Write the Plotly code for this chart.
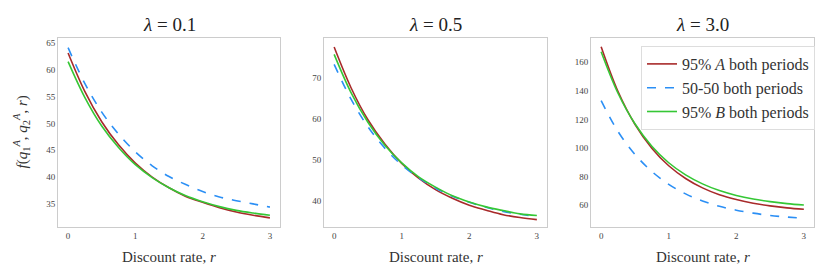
import plotly.graph_objects as go

r = [0, 0.25, 0.5, 0.75, 1.0, 1.25, 1.5, 1.75, 2.0, 2.25, 2.5, 2.75, 3.0]

# lambda = 0.1
p1_a = [63.1, 55.9, 50.3, 46.0, 42.6, 40.0, 38.0, 36.4, 35.3, 34.3, 33.5, 32.9, 32.4]
p1_ab = [64.1, 57.4, 52.1, 48.0, 44.7, 42.1, 40.1, 38.6, 37.3, 36.3, 35.6, 35.0, 34.4]
p1_b = [61.5, 54.8, 49.5, 45.5, 42.3, 39.9, 38.0, 36.5, 35.4, 34.5, 33.8, 33.3, 32.9]

# lambda = 0.5
p2_a = [77.5, 67.6, 59.8, 53.9, 49.2, 45.6, 42.8, 40.7, 39.0, 37.8, 36.7, 36.0, 35.5]
p2_ab = [73.3, 64.8, 58.1, 52.9, 48.8, 45.7, 43.2, 41.2, 39.7, 38.5, 37.5, 36.8, 36.2]
p2_b = [75.7, 66.4, 59.2, 53.6, 49.3, 45.9, 43.4, 41.3, 39.8, 38.6, 37.7, 36.9, 36.5]

# lambda = 3.0
p3_a = [170.9, 139.5, 116.6, 99.8, 87.5, 78.6, 72.0, 67.2, 63.8, 61.2, 59.4, 58.0, 57.0]
p3_ab = [133.1, 111.5, 95.5, 83.5, 74.5, 67.8, 62.9, 59.1, 56.4, 54.3, 52.7, 51.6, 50.7]
p3_b = [167.4, 138.3, 116.9, 101.2, 89.6, 81.1, 74.8, 70.1, 66.7, 64.2, 62.4, 61.0, 60.0]

titles = ["<i>λ</i> = 0.1", "<i>λ</i> = 0.5", "<i>λ</i> = 3.0"]
series_names = ["95% <i>A</i> both periods", "50-50 both periods", "95% <i>B</i> both periods"]
colors = ["#a82a2a", "#2b8ff5", "#35c735"]
dashes = ["solid", "dash", "solid"]

y_ranges = [[30.7, 65.9], [33.7, 79.7], [44.6, 177.0]]
y_ticks = [[35, 40, 45, 50, 55, 60, 65], [40, 50, 60, 70], [60, 80, 100, 120, 140, 160]]
x_ticks = [0, 1, 2, 3]

panels = [[p1_a, p1_ab, p1_b], [p2_a, p2_ab, p2_b], [p3_a, p3_ab, p3_b]]

W, H = 830, 277
x_doms = [[58 / W, 280 / W], [324 / W, 547 / W], [591 / W, 814 / W]]
y_dom = [1 - 227 / H, 1 - 38 / H]

FONT = "'Liberation Serif', 'Times New Roman', serif"

fig = go.Figure()
for i, data in enumerate(panels):
    xa = "x" if i == 0 else f"x{i+1}"
    ya = "y" if i == 0 else f"y{i+1}"
    for j, vals in enumerate(data):
        fig.add_trace(go.Scatter(
            x=r, y=vals, mode="lines", name=series_names[j],
            line=dict(color=colors[j], width=1.6, dash=dashes[j], shape="spline"),
            xaxis=xa, yaxis=ya, showlegend=(i == 2),
        ))

layout = dict(
    width=W, height=H,
    margin=dict(l=0, r=0, t=0, b=0),
    paper_bgcolor="white", plot_bgcolor="white",
    font=dict(family=FONT, color="#333333"),
    legend=dict(
        x=641 / W, y=1 - 46 / H, xanchor="left", yanchor="top",
        bgcolor="rgba(255,255,255,0.85)", bordercolor="#dddddd", borderwidth=1,
        font=dict(family=FONT, size=16, color="#333333"),
        tracegroupgap=0,
    ),
    annotations=[],
)

for i in range(3):
    xk = "xaxis" if i == 0 else f"xaxis{i+1}"
    yk = "yaxis" if i == 0 else f"yaxis{i+1}"
    ya = "y" if i == 0 else f"y{i+1}"
    xa = "x" if i == 0 else f"x{i+1}"
    layout[xk] = dict(
        domain=x_doms[i], anchor=ya, range=[-0.15, 3.15],
        tickvals=x_ticks, ticks="", showgrid=False, zeroline=False,
        showline=True, mirror=True, linecolor="#cccccc", linewidth=1,
        tickfont=dict(family=FONT, size=9, color="#444444"),
    )
    layout[yk] = dict(
        domain=y_dom, anchor=xa, range=y_ranges[i],
        tickvals=y_ticks[i], ticks="", showgrid=False, zeroline=False,
        showline=True, mirror=True, linecolor="#cccccc", linewidth=1,
        tickfont=dict(family=FONT, size=9, color="#444444"),
    )
    cx = (x_doms[i][0] + x_doms[i][1]) / 2
    layout["annotations"].append(dict(
        text=titles[i], x=cx, y=1 - 25 / H, xref="paper", yref="paper",
        showarrow=False, xanchor="center", yanchor="middle",
        font=dict(family=FONT, size=19, color="#222222"),
    ))
    layout["annotations"].append(dict(
        text="Discount rate, <i>r</i>", x=cx, y=1 - 257 / H, xref="paper", yref="paper",
        showarrow=False, xanchor="center", yanchor="middle",
        font=dict(family=FONT, size=15, color="#333333"),
    ))

layout["annotations"].append(dict(
    text="<i>f</i>(<i>q</i><sub>1</sub><sup><i>A</i></sup>, <i>q</i><sub>2</sub><sup><i>A</i></sup>, <i>r</i>)",
    x=22 / W, y=(y_dom[0] + y_dom[1]) / 2, xref="paper", yref="paper",
    showarrow=False, xanchor="center", yanchor="middle", textangle=-90,
    font=dict(family=FONT, size=15, color="#333333"),
))

fig.update_layout(**layout)
fig.write_html(
    "out.html",
    config={"displayModeBar": False},
    post_script="document.body.style.margin='0';document.body.style.overflow='hidden';",
)
